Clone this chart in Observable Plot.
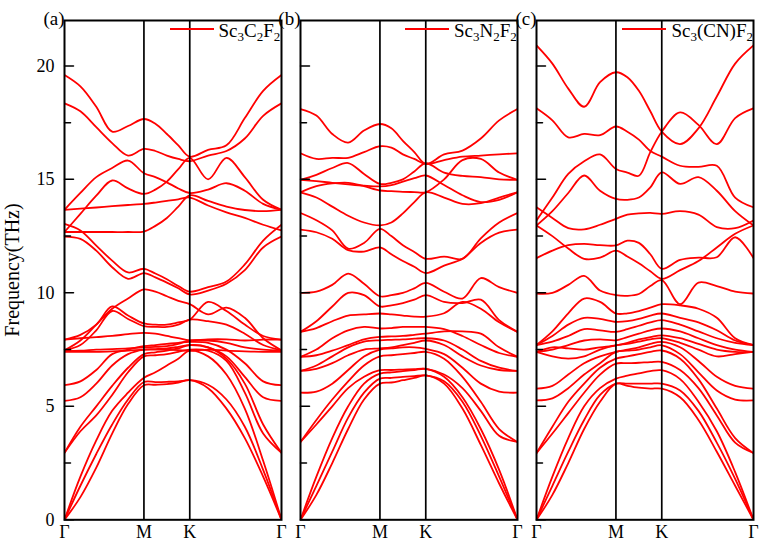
<!DOCTYPE html>
<html>
<head>
<meta charset="utf-8">
<script src="https://cdn.jsdelivr.net/npm/d3@7"></script>
<script src="https://cdn.jsdelivr.net/npm/@observablehq/plot@0.6"></script>
<style>
  html, body { margin: 0; padding: 0; background: #fff; }
  #wrap { position: relative; width: 763px; height: 544px; }
  #wrap, #wrap div, #wrap span, #wrap svg, #wrap svg text { font-family: "Liberation Serif", "Times New Roman", serif !important; }
  .legend { position: absolute; top: 20px; display: flex; align-items: center; font-size: 19px; color: #000; white-space: nowrap; }
  .legend .ln { display: inline-block; width: 44px; height: 2px; background: #f00; margin-right: 5px; margin-top: -4px; }
  .legend sub { font-size: 13px; vertical-align: -4px; line-height: 0; }
  #ylabel { position: absolute; width: 300px; left: -138px; top: 258px; text-align: center; font-size: 20px; line-height: 24px; transform: rotate(-90deg); color: #000; }
</style>
</head>
<body>
<div id="wrap"></div>
<script>
// k-path sample positions (Γ–M–K–Γ path length units)
const kpts = [0, 0.2, 0.4, 0.6, 0.8, 1, 1.144, 1.289, 1.433, 1.577, 1.808, 2.039, 2.27, 2.501, 2.732];
const kTicks = [0, 1, 1.577, 2.732];
const kLabels = ["Γ", "M", "K", "Γ"];
const yTicks = [0, 5, 10, 15, 20];
const yMinorTicks = [2.5, 7.5, 12.5, 17.5];
const panels = ["a", "b", "c"];
const panelTitles = ["(a)", "(b)", "(c)"];
const legendHtml = ["Sc<sub>3</sub>C<sub>2</sub>F<sub>2</sub>", "Sc<sub>3</sub>N<sub>2</sub>F<sub>2</sub>", "Sc<sub>3</sub>(CN)F<sub>2</sub>"];

// Panel (a) Sc3C2F2 phonon branches (THz)
const bandsA = [
  [19.6, 19.1, 18.2, 17.1, 17.35, 17.66, 17.45, 17.0, 16.5, 16.0, 16.3, 16.5, 17.7, 18.9, 19.6],
  [18.35, 18.0, 17.3, 16.6, 16.05, 16.34, 16.25, 16.05, 15.9, 15.8, 16.05, 16.25, 16.8, 17.8, 18.35],
  [13.66, 14.4, 15.1, 15.5, 15.83, 15.27, 15.1, 14.87, 14.6, 14.4, 14.55, 14.83, 14.5, 13.92, 13.66],
  [12.68, 13.48, 14.28, 14.95, 14.6, 14.36, 14.55, 14.9, 15.45, 15.95, 15.0, 15.95, 15.1, 14.1, 13.66],
  [13.66, 13.71, 13.76, 13.82, 13.87, 13.92, 13.98, 14.05, 14.12, 14.2, 13.85, 13.55, 13.3, 13.0, 12.75],
  [12.68, 12.68, 12.68, 12.68, 12.68, 12.7, 12.95, 13.3, 13.8, 14.3, 14.05, 13.8, 13.65, 13.6, 13.66],
  [13.04, 12.75, 12.08, 11.42, 10.9, 11.06, 10.85, 10.6, 10.3, 10.05, 10.25, 10.5, 11.25, 12.3, 13.0],
  [12.48, 12.38, 11.86, 11.13, 10.62, 10.87, 10.68, 10.45, 10.2, 9.93, 10.1, 10.4, 11.0, 12.0, 12.48],
  [7.47, 7.9, 8.6, 9.3, 9.75, 10.15, 10.05, 9.85, 9.65, 9.5, 9.05, 9.35, 8.9, 8.0, 7.47],
  [7.94, 8.15, 8.6, 9.4, 9.0, 8.65, 8.6, 8.6, 8.7, 8.82, 9.6, 9.2, 8.6, 8.1, 7.94],
  [7.47, 7.7, 8.35, 9.2, 8.85, 8.53, 8.5, 8.5, 8.6, 8.82, 8.75, 8.6, 8.2, 7.7, 7.47],
  [7.94, 8.0, 8.05, 8.1, 8.18, 8.24, 8.2, 8.1, 8.0, 7.91, 7.95, 7.95, 7.9, 7.94, 7.94],
  [7.45, 7.45, 7.5, 7.52, 7.55, 7.6, 7.62, 7.65, 7.75, 7.9, 7.9, 7.8, 7.6, 7.5, 7.45],
  [7.4, 7.4, 7.4, 7.42, 7.45, 7.5, 7.5, 7.5, 7.48, 7.45, 7.5, 7.45, 7.42, 7.4, 7.4],
  [5.93, 6.1, 6.6, 7.3, 7.5, 7.65, 7.7, 7.75, 7.8, 7.84, 7.8, 7.5, 6.9, 6.1, 5.93],
  [5.24, 5.4, 6.0, 6.8, 7.3, 7.5, 7.52, 7.55, 7.62, 7.7, 7.6, 7.2, 6.3, 5.4, 5.24],
  [2.95, 4.1, 5.0, 5.9, 6.7, 7.3, 7.38, 7.45, 7.55, 7.7, 7.6, 7.1, 6.0, 4.2, 2.95],
  [2.95, 3.9, 4.6, 5.5, 6.5, 7.2, 7.25, 7.3, 7.4, 7.5, 7.45, 7.0, 5.6, 3.8, 2.95],
  [0, 1.9, 3.5, 4.8, 5.6, 6.26, 6.5, 6.8, 7.1, 7.45, 7.2, 6.4, 4.9, 2.6, 0],
  [0, 1.5, 2.9, 4.2, 5.3, 6.07, 6.07, 6.08, 6.1, 6.15, 5.95, 5.3, 4.1, 2.2, 0],
  [0, 1.0, 2.3, 3.8, 5.1, 5.93, 5.95, 5.98, 6.05, 6.15, 5.8, 4.9, 3.6, 1.9, 0]
];

// Panel (b) Sc3N2F2 phonon branches (THz)
const bandsB = [
  [18.1, 17.81, 17.0, 16.62, 17.15, 17.44, 17.25, 16.7, 16.2, 15.68, 16.1, 16.27, 16.8, 17.6, 18.1],
  [16.15, 15.9, 15.95, 15.95, 16.2, 16.46, 16.4, 16.1, 15.9, 15.68, 15.85, 16.0, 16.05, 16.1, 16.15],
  [14.98, 15.2, 15.5, 15.72, 15.24, 14.8, 14.85, 15.0, 15.35, 15.71, 15.3, 15.15, 15.1, 15.0, 14.98],
  [14.98, 14.92, 14.85, 14.78, 14.72, 14.69, 14.75, 14.9, 15.05, 15.17, 14.75, 14.3, 14.0, 14.1, 14.43],
  [14.43, 14.7, 14.82, 14.85, 14.7, 14.51, 14.48, 14.45, 14.44, 14.43, 15.0, 15.85, 15.9, 15.3, 14.98],
  [14.43, 14.2, 13.8, 13.4, 13.1, 12.97, 13.1, 13.5, 14.0, 14.43, 14.2, 13.92, 13.95, 14.2, 14.43],
  [13.52, 13.2, 12.75, 11.95, 12.2, 12.82, 12.5, 12.1, 11.8, 11.5, 11.6, 11.5, 12.4, 13.1, 13.52],
  [12.79, 12.67, 12.38, 11.88, 11.82, 12.0, 11.7, 11.4, 11.15, 10.87, 11.2, 11.5, 12.2, 12.65, 12.79],
  [10.0, 10.05, 10.35, 10.85, 10.4, 9.85, 9.9, 10.0, 10.2, 10.44, 10.05, 9.75, 10.65, 10.25, 10.0],
  [8.28, 8.75, 9.4, 10.0, 9.9, 9.4, 9.45, 9.55, 9.7, 9.9, 9.6, 9.55, 9.7, 8.8, 8.28],
  [8.28, 8.45, 8.75, 9.0, 9.05, 9.09, 9.05, 9.0, 8.95, 8.95, 9.1, 9.6, 9.3, 8.7, 8.28],
  [7.18, 7.5, 8.0, 8.35, 8.5, 8.43, 8.45, 8.5, 8.5, 8.5, 8.4, 8.1, 7.7, 7.35, 7.18],
  [7.18, 7.25, 7.45, 7.7, 7.95, 8.06, 8.08, 8.1, 8.15, 8.2, 8.3, 8.3, 8.2, 7.6, 7.18],
  [6.56, 6.8, 7.2, 7.6, 7.85, 7.91, 7.93, 7.95, 7.98, 8.0, 7.9, 7.5, 7.0, 6.7, 6.56],
  [6.56, 6.65, 6.9, 7.25, 7.5, 7.55, 7.6, 7.7, 7.8, 7.9, 7.7, 7.2, 6.8, 6.6, 6.56],
  [5.6, 5.65, 6.0, 6.6, 7.2, 7.5, 7.55, 7.6, 7.6, 7.53, 7.3, 6.7, 6.0, 5.65, 5.6],
  [3.43, 4.4, 5.3, 6.1, 6.8, 7.2, 7.25, 7.3, 7.35, 7.4, 7.1, 6.3, 5.2, 4.0, 3.43],
  [3.43, 4.2, 5.0, 5.8, 6.3, 6.59, 6.6, 6.62, 6.64, 6.65, 6.4, 5.8, 4.8, 3.7, 3.43],
  [0, 1.9, 3.6, 5.0, 6.0, 6.44, 6.5, 6.55, 6.6, 6.65, 6.3, 5.4, 4.0, 2.2, 0],
  [0, 1.5, 3.0, 4.5, 5.6, 6.22, 6.25, 6.3, 6.33, 6.36, 6.1, 5.2, 3.7, 1.9, 0],
  [0, 1.1, 2.5, 4.0, 5.3, 6.0, 6.05, 6.15, 6.25, 6.36, 6.0, 4.9, 3.3, 1.6, 0]
];

// Panel (c) Sc3(CN)F2 phonon branches (THz)
const bandsC = [
  [20.9, 20.1, 19.0, 18.2, 19.28, 19.72, 19.5, 18.9, 18.0, 17.1, 16.55, 17.25, 18.65, 20.1, 20.9],
  [18.13, 17.6, 16.85, 17.0, 16.95, 17.33, 17.1, 16.75, 16.25, 16.0, 15.6, 15.55, 15.6, 14.2, 13.77],
  [13.19, 14.2, 15.24, 15.8, 16.1, 15.46, 15.3, 15.16, 16.2, 17.1, 17.95, 17.4, 16.55, 17.7, 18.13],
  [12.97, 13.6, 14.4, 15.17, 14.5, 14.14, 14.1, 14.2, 14.65, 15.31, 14.8, 15.1, 14.5, 13.6, 12.97],
  [13.77, 13.3, 12.85, 12.8, 13.0, 13.26, 13.45, 13.5, 13.52, 13.48, 13.6, 13.45, 12.9, 12.85, 13.19],
  [11.53, 11.86, 12.1, 12.16, 12.1, 12.09, 12.3, 12.2, 11.7, 11.06, 11.45, 11.55, 11.57, 12.45, 11.53],
  [12.97, 12.5, 11.95, 11.5, 11.55, 11.86, 11.6, 11.3, 10.95, 10.62, 11.0, 11.4, 12.0, 12.6, 12.97],
  [9.97, 10.0, 10.35, 10.75, 10.1, 9.9, 9.87, 9.95, 10.3, 10.56, 9.5, 10.45, 10.3, 10.05, 9.97],
  [7.7, 8.3, 9.1, 9.75, 9.6, 9.09, 9.1, 9.2, 9.35, 9.5, 9.45, 9.3, 8.9, 8.0, 7.7],
  [7.7, 8.1, 8.6, 8.9, 8.85, 8.72, 8.75, 8.85, 9.0, 9.09, 8.9, 8.7, 8.35, 7.9, 7.7],
  [7.7, 7.85, 8.1, 8.4, 8.35, 8.28, 8.4, 8.55, 8.7, 8.8, 8.6, 8.3, 8.0, 7.8, 7.7],
  [7.4, 7.5, 7.7, 7.9, 7.95, 7.91, 8.05, 8.2, 8.35, 8.43, 8.3, 8.0, 7.7, 7.5, 7.4],
  [7.4, 7.6, 7.55, 7.5, 7.6, 7.69, 7.8, 7.95, 8.05, 8.13, 8.0, 7.75, 7.5, 7.4, 7.4],
  [7.4, 7.2, 7.1, 7.2, 7.5, 7.69, 7.75, 7.85, 7.95, 8.0, 7.8, 7.5, 7.2, 7.3, 7.4],
  [5.78, 5.9, 6.4, 6.9, 7.2, 7.4, 7.5, 7.6, 7.75, 7.84, 7.6, 7.0, 6.3, 5.9, 5.78],
  [5.26, 5.35, 5.8, 6.4, 6.9, 7.4, 7.45, 7.5, 7.6, 7.69, 7.3, 6.5, 5.7, 5.3, 5.26],
  [2.94, 4.1, 5.2, 6.0, 6.7, 7.1, 7.2, 7.3, 7.4, 7.46, 7.1, 6.2, 4.9, 3.6, 2.94],
  [2.94, 3.8, 4.7, 5.6, 6.4, 6.88, 6.9, 6.92, 6.95, 6.96, 6.6, 5.8, 4.6, 3.4, 2.94],
  [0, 1.9, 3.6, 5.0, 5.8, 6.22, 6.35, 6.45, 6.55, 6.59, 6.2, 5.2, 3.9, 2.1, 0],
  [0, 1.5, 3.0, 4.4, 5.5, 6.0, 6.0, 6.0, 6.0, 6.0, 5.7, 4.8, 3.4, 1.8, 0],
  [0, 1.1, 2.5, 4.0, 5.2, 6.0, 5.9, 5.82, 5.78, 5.78, 5.4, 4.4, 3.0, 1.5, 0]
];

const allBands = {a: bandsA, b: bandsB, c: bandsC};
const rows = [];
for (const p of panels) {
  allBands[p].forEach((band, bi) => {
    band.forEach((f, i) => rows.push({panel: p, band: p + bi, k: kpts[i], f}));
  });
}
const titleRows = panels.map((p, i) => ({panel: p, label: panelTitles[i]}));

const tickShape = {draw(ctx, l) { ctx.moveTo(0, 0); ctx.lineTo(0, -l); }};
const serif = "'Liberation Serif', 'Times New Roman', serif";

const chart = Plot.plot({
  width: 763,
  height: 544,
  marginLeft: 63.3,
  marginRight: 10,
  marginTop: 20,
  marginBottom: 24.7,
  style: {background: "#fff", color: "#000", fontFamily: serif, fontSize: "18px", overflow: "visible"},
  fx: {domain: panels, paddingInner: 0.082, paddingOuter: 0, axis: null},
  x: {domain: [0, 2.732]},
  y: {domain: [0, 22]},
  marks: [
    Plot.line(rows, {x: "k", y: "f", z: "band", fx: "panel", stroke: "#f00", strokeWidth: 1.8, curve: "catmull-rom", clip: true}),
    Plot.ruleX([1, 1.577], {stroke: "#000", strokeWidth: 1.7}),
    Plot.frame({stroke: "#000", strokeWidth: 2}),
    Plot.vector(yTicks, {y: d => d, frameAnchor: "left", rotate: 90, length: 9, anchor: "start", shape: tickShape, stroke: "#000", strokeWidth: 1.5}),
    Plot.vector(yMinorTicks, {y: d => d, frameAnchor: "left", rotate: 90, length: 6, anchor: "start", shape: tickShape, stroke: "#000", strokeWidth: 1.5}),
    Plot.axisY(yTicks, {tickSize: 0, tickPadding: 10, fontSize: 18, fontFamily: serif, label: null}),
    Plot.axisX(kTicks, {tickSize: 0, tickPadding: 5, fontSize: 18, fontFamily: serif, label: null, tickFormat: d => kLabels[kTicks.indexOf(d)]}),
    Plot.text(titleRows, {fx: "panel", text: "label", frameAnchor: "top-left", textAnchor: "end", dy: -9, fontSize: 19, fontFamily: serif})
  ]
});

const wrap = document.getElementById("wrap");
wrap.appendChild(chart);

// legends (HTML overlay so that subscripts render)
const frameRights = [280.3, 516.7, 753];
panels.forEach((p, i) => {
  const d = document.createElement("div");
  d.className = "legend";
  d.style.right = (763 - frameRights[i]) + "px";
  d.innerHTML = '<span class="ln"></span><span>' + legendHtml[i] + '</span>';
  wrap.appendChild(d);
});
const yl = document.createElement("div");
yl.id = "ylabel";
yl.textContent = "Frequency(THz)";
wrap.appendChild(yl);
</script>
</body>
</html>
